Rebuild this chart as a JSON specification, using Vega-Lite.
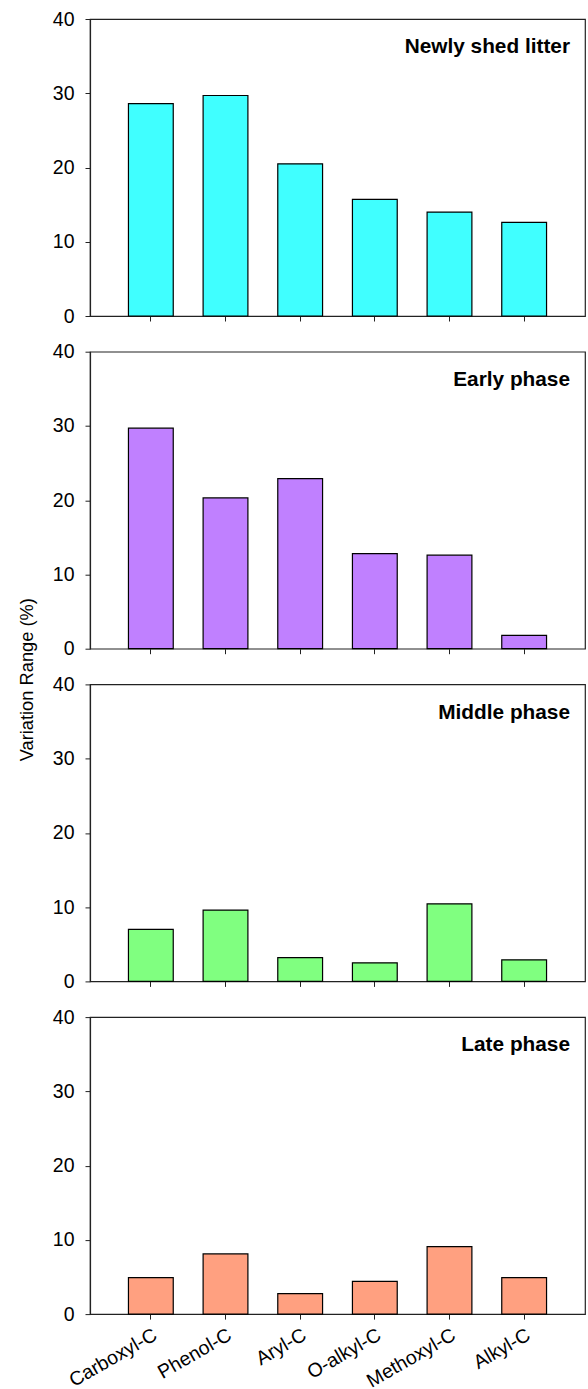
{
  "$schema": "https://vega.github.io/schema/vega-lite/v6.json",
  "padding": {"left": 18, "top": 8, "right": 2, "bottom": 5},
  "background": "white",
  "title": {"text": "Variation Range (%)", "orient": "left", "anchor": "middle", "fontSize": 18.3, "fontWeight": "normal", "font": "Liberation Sans", "color": "#000", "offset": 14, "dx": 20},
  "data": {"values": [
    {"phase": "Newly shed litter", "group": "Carboxyl-C", "value": 28.6},
    {"phase": "Newly shed litter", "group": "Phenol-C", "value": 29.7},
    {"phase": "Newly shed litter", "group": "Aryl-C", "value": 20.5},
    {"phase": "Newly shed litter", "group": "O-alkyl-C", "value": 15.7},
    {"phase": "Newly shed litter", "group": "Methoxyl-C", "value": 14.0},
    {"phase": "Newly shed litter", "group": "Alkyl-C", "value": 12.6},
    {"phase": "Early phase", "group": "Carboxyl-C", "value": 29.7},
    {"phase": "Early phase", "group": "Phenol-C", "value": 20.3},
    {"phase": "Early phase", "group": "Aryl-C", "value": 22.9},
    {"phase": "Early phase", "group": "O-alkyl-C", "value": 12.8},
    {"phase": "Early phase", "group": "Methoxyl-C", "value": 12.6},
    {"phase": "Early phase", "group": "Alkyl-C", "value": 1.8},
    {"phase": "Middle phase", "group": "Carboxyl-C", "value": 7.0},
    {"phase": "Middle phase", "group": "Phenol-C", "value": 9.6},
    {"phase": "Middle phase", "group": "Aryl-C", "value": 3.2},
    {"phase": "Middle phase", "group": "O-alkyl-C", "value": 2.5},
    {"phase": "Middle phase", "group": "Methoxyl-C", "value": 10.45},
    {"phase": "Middle phase", "group": "Alkyl-C", "value": 2.9},
    {"phase": "Late phase", "group": "Carboxyl-C", "value": 4.9},
    {"phase": "Late phase", "group": "Phenol-C", "value": 8.1},
    {"phase": "Late phase", "group": "Aryl-C", "value": 2.75},
    {"phase": "Late phase", "group": "O-alkyl-C", "value": 4.4},
    {"phase": "Late phase", "group": "Methoxyl-C", "value": 9.1},
    {"phase": "Late phase", "group": "Alkyl-C", "value": 4.9}
  ]},
  "bounds": "flush",
  "spacing": 35.7,
  "vconcat": [
    {
      "width": 495, "height": 297,
      "title": {"text": "Newly shed litter", "anchor": "end", "frame": "group", "orient": "top", "offset": -36, "baseline": "alphabetic", "dx": -15, "dy": 29, "fontSize": 20.8, "fontWeight": "bold", "font": "Liberation Sans", "color": "#000"},
      "transform": [{"filter": "datum.phase === 'Newly shed litter'"}],
      "mark": {"type": "bar", "fill": "#40FFFF", "stroke": "#000", "strokeWidth": 1.2},
      "encoding": {
        "x": {"field": "group", "type": "nominal", "sort": ["Carboxyl-C", "Phenol-C", "Aryl-C", "O-alkyl-C", "Methoxyl-C", "Alkyl-C"], "scale": {"paddingInner": 0.4, "paddingOuter": 0.515}, "axis": {"labels": false, "title": null, "domain": false, "ticks": true, "tickSize": 5}},
        "y": {"field": "value", "type": "quantitative", "scale": {"domain": [0, 40]}, "axis": {"values": [0, 10, 20, 30, 40], "title": null, "grid": false}}
      }
    },
    {
      "width": 495, "height": 297,
      "title": {"text": "Early phase", "anchor": "end", "frame": "group", "orient": "top", "offset": -36, "baseline": "alphabetic", "dx": -15, "dy": 29, "fontSize": 20.8, "fontWeight": "bold", "font": "Liberation Sans", "color": "#000"},
      "transform": [{"filter": "datum.phase === 'Early phase'"}],
      "mark": {"type": "bar", "fill": "#C080FF", "stroke": "#000", "strokeWidth": 1.2},
      "encoding": {
        "x": {"field": "group", "type": "nominal", "sort": ["Carboxyl-C", "Phenol-C", "Aryl-C", "O-alkyl-C", "Methoxyl-C", "Alkyl-C"], "scale": {"paddingInner": 0.4, "paddingOuter": 0.515}, "axis": {"labels": false, "title": null, "domain": false, "ticks": true, "tickSize": 5}},
        "y": {"field": "value", "type": "quantitative", "scale": {"domain": [0, 40]}, "axis": {"values": [0, 10, 20, 30, 40], "title": null, "grid": false}}
      }
    },
    {
      "width": 495, "height": 297,
      "title": {"text": "Middle phase", "anchor": "end", "frame": "group", "orient": "top", "offset": -36, "baseline": "alphabetic", "dx": -15, "dy": 29, "fontSize": 20.8, "fontWeight": "bold", "font": "Liberation Sans", "color": "#000"},
      "transform": [{"filter": "datum.phase === 'Middle phase'"}],
      "mark": {"type": "bar", "fill": "#80FF80", "stroke": "#000", "strokeWidth": 1.2},
      "encoding": {
        "x": {"field": "group", "type": "nominal", "sort": ["Carboxyl-C", "Phenol-C", "Aryl-C", "O-alkyl-C", "Methoxyl-C", "Alkyl-C"], "scale": {"paddingInner": 0.4, "paddingOuter": 0.515}, "axis": {"labels": false, "title": null, "domain": false, "ticks": true, "tickSize": 5}},
        "y": {"field": "value", "type": "quantitative", "scale": {"domain": [0, 40]}, "axis": {"values": [0, 10, 20, 30, 40], "title": null, "grid": false}}
      }
    },
    {
      "width": 495, "height": 297,
      "title": {"text": "Late phase", "anchor": "end", "frame": "group", "orient": "top", "offset": -36, "baseline": "alphabetic", "dx": -15, "dy": 29, "fontSize": 20.8, "fontWeight": "bold", "font": "Liberation Sans", "color": "#000"},
      "transform": [{"filter": "datum.phase === 'Late phase'"}],
      "mark": {"type": "bar", "fill": "#FFA080", "stroke": "#000", "strokeWidth": 1.2},
      "encoding": {
        "x": {"field": "group", "type": "nominal", "sort": ["Carboxyl-C", "Phenol-C", "Aryl-C", "O-alkyl-C", "Methoxyl-C", "Alkyl-C"], "scale": {"paddingInner": 0.4, "paddingOuter": 0.515}, "axis": {"labels": true, "labelAngle": -30, "labelAlign": "right", "labelBaseline": "top", "labelPadding": 6, "title": null, "domain": false, "ticks": true, "tickSize": 5}},
        "y": {"field": "value", "type": "quantitative", "scale": {"domain": [0, 40]}, "axis": {"values": [0, 10, 20, 30, 40], "title": null, "grid": false}}
      }
    }
  ],
  "config": {
    "font": "Liberation Sans",
    "view": {"stroke": "#222", "strokeWidth": 1.2},
    "axis": {
      "labelFont": "Liberation Sans",
      "labelFontSize": 19.5,
      "labelColor": "#000",
      "tickColor": "#222",
      "tickWidth": 1,
      "domainColor": "#222",
      "domainWidth": 1.2,
      "labelOverlap": false,
      "labelFlush": false
    },
    "axisY": {"tickSize": 5, "labelPadding": 11}
  }
}
